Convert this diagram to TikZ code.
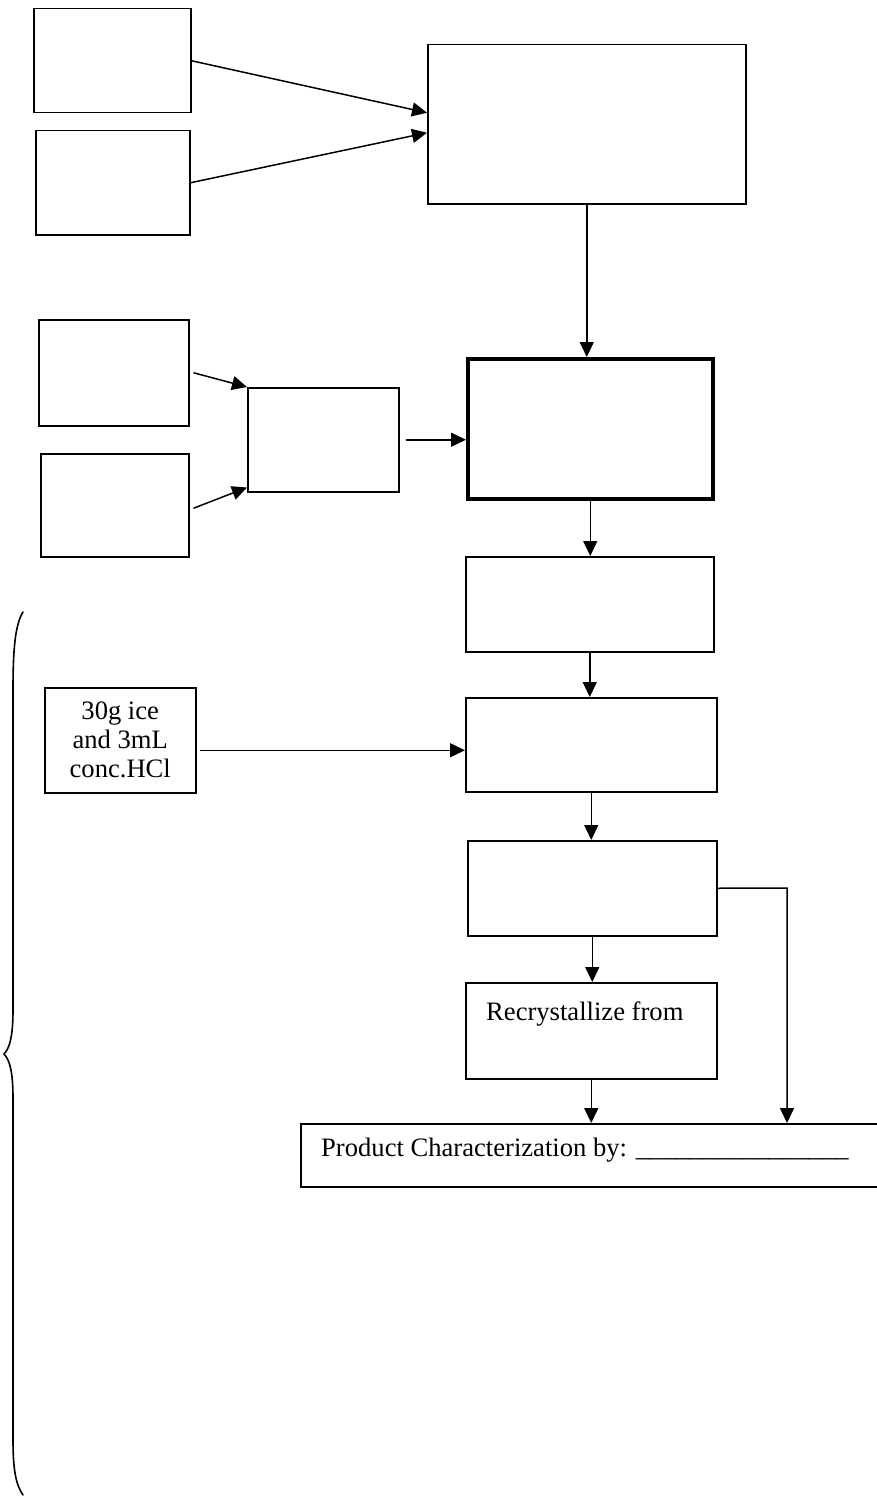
\documentclass[tikz,border=0pt]{standalone}
\usepackage{fontspec}
\setmainfont{Liberation Serif}
\usetikzlibrary{arrows.meta}
\tikzset{
  stage/.style={draw=black, line width=1.5pt, inner sep=0pt, anchor=north west},
  stagebold/.style={stage, line width=3.5pt},
  flow/.style={line width=1.5pt, draw=black, -{Triangle[length=15pt,width=14pt]}},
  brace/.style={line width=1.6pt, draw=black, line cap=round},
  txt/.style={font=\fontsize{26.6pt}{29pt}\selectfont, inner sep=0pt},
}
\begin{document}
\begin{tikzpicture}[x=1pt, y=-1pt]
\useasboundingbox (0,0) rectangle (877,1498);
\clip (0,0) rectangle (877,1498);
% top row
\node[stage, minimum width=157pt, minimum height=104pt] (srcA) at (33,8) {};
\node[stage, minimum width=154pt, minimum height=104pt] (srcB) at (35,130) {};
\node[stage, minimum width=318pt, minimum height=159pt] (mix) at (427,44) {};
% second row
\node[stage, minimum width=150pt, minimum height=106pt] (srcC) at (38,319) {};
\node[stage, minimum width=148pt, minimum height=103pt] (srcD) at (40,453) {};
\node[stage, minimum width=151pt, minimum height=104pt] (pre) at (247,387) {};
\node[stagebold, minimum width=245pt, minimum height=140pt] (react) at (466,357) {};
% work-up column
\node[stage, minimum width=248pt, minimum height=95pt] (stepC) at (465,556) {};
\node[stage, minimum width=151pt, minimum height=105pt, align=center, txt] (ice) at (44,687) {30g ice\\and 3mL\\conc.HCl};
\node[stage, minimum width=251pt, minimum height=94pt] (stepD) at (465,697) {};
\node[stage, minimum width=249pt, minimum height=95pt] (stepE) at (467,840) {};
\node[stage, minimum width=251pt, minimum height=96pt] (recryst) at (465,982) {};
\node[txt, anchor=base west] (recrystlbl) at (486,1020) {Recrystallize from};
\node[stage, minimum width=620pt, minimum height=63pt] (product) at (300,1123) {};
\node[txt, anchor=base west] (productlbl) at (321,1156) {Product Characterization by: \_\_\_\_\_\_\_\_\_\_\_\_\_\_\_\_};
\coordinate (bend) at (787,888);
% connectors
\draw[flow] (srcA.east) -- ([yshift=11.5pt]mix.west);
\draw[flow] (srcB.east) -- ([yshift=-8.5pt]mix.west);
\draw[flow] (mix.south) -- (mix.south |- react.north);
\draw[flow] ([xshift=4pt]srcC.east) -- (pre.north west);
\draw[flow] ([xshift=4pt,yshift=-3pt]srcD.east) -- ([yshift=5pt]pre.south west);
\draw[flow] ([xshift=6pt]pre.east) -- (pre.east -| react.west);
\draw[flow] (react.south) -- (react.south |- stepC.north);
\draw[flow] (stepC.south) -- (stepC.south |- stepD.north);
\draw[flow] ([xshift=3pt,yshift=-10pt]ice.east) -- ([yshift=-10pt]ice.east -| stepD.west);
\draw[flow] (stepD.south) -- (stepD.south |- stepE.north);
\draw[flow] (stepE.south) -- (stepE.south |- recryst.north);
\draw[flow] (recryst.south) -- (recryst.south |- product.north);
\draw[flow] (stepE.east) -- (bend) -- (bend |- product.north);
% brace
\draw[brace] (23,612) .. controls (15,625) and (13,650) .. (13,690) -- (13,1010)
  .. controls (13,1035) and (10,1048) .. (4,1054)
  .. controls (10,1060) and (13,1073) .. (13,1098) -- (13,1440)
  .. controls (13,1470) and (16,1485) .. (23,1495);
\end{tikzpicture}
\end{document}
